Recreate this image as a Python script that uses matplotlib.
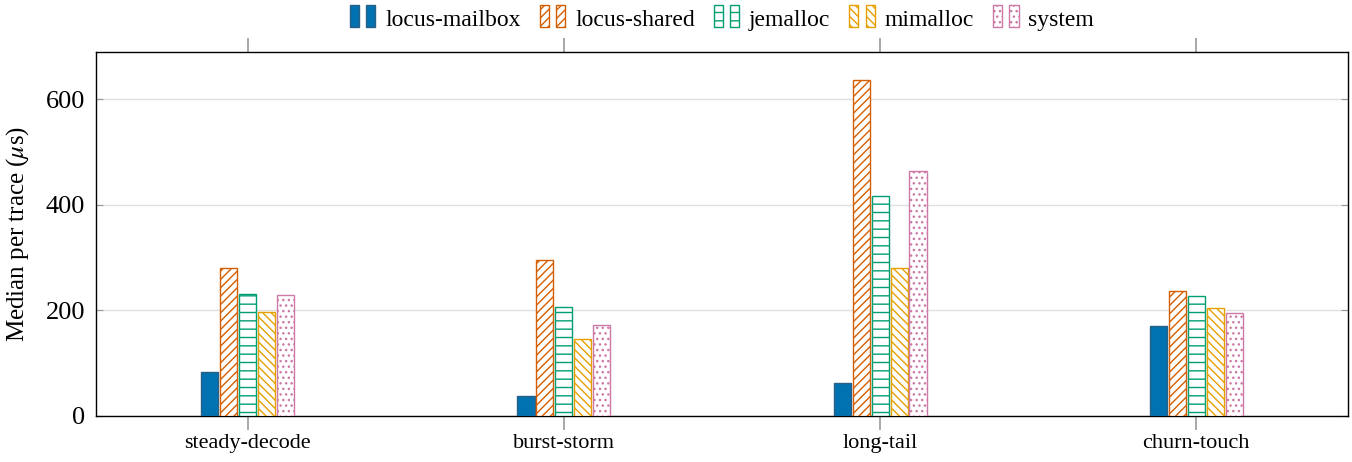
import numpy as np
import matplotlib
matplotlib.use('Agg')
import matplotlib.pyplot as plt
from matplotlib.patches import Rectangle
from matplotlib.legend_handler import HandlerBase

plt.rcParams['font.family'] = ['Liberation Serif', 'DejaVu Serif']
plt.rcParams['mathtext.fontset'] = 'stix'
plt.rcParams['hatch.linewidth'] = 1.0

categories = ['steady-decode', 'burst-storm', 'long-tail', 'churn-touch']
series = ['locus-mailbox', 'locus-shared', 'jemalloc', 'mimalloc', 'system']
locus_mailbox = [84, 38, 62, 170]
locus_shared = [280, 295, 636, 237]
jemalloc = [231, 206, 417, 227]
mimalloc = [198, 146, 280, 205]
system = [230, 173, 465, 196]
values = [locus_mailbox, locus_shared, jemalloc, mimalloc, system]

colors = ['#0072B2', '#D55E00', '#009E73', '#E69F00', '#CC79A7']
hatches = [None, '////', '--', '\\\\\\\\', '...']


class TwoBarHandler(HandlerBase):
    def create_artists(self, legend, orig_handle, xdescent, ydescent,
                       width, height, fontsize, trans):
        w = width * 0.32
        arts = []
        for x0 in (0.0, width * 0.58):
            r = Rectangle((x0 - xdescent, -ydescent - height * 0.1), w, height * 1.35,
                          facecolor=orig_handle.get_facecolor(),
                          edgecolor=orig_handle.get_edgecolor(),
                          hatch=orig_handle.get_hatch(), lw=1.0,
                          transform=trans)
            arts.append(r)
        return arts


fig = plt.figure(figsize=(13.52, 4.62), dpi=100)
ax = fig.add_axes([96 / 1352, 1 - 416 / 462, 1252 / 1352, 364 / 462])

x = np.arange(len(categories))
step = 0.06
bw = 0.054
handles = []
for i, (name, vals) in enumerate(zip(series, values)):
    pos = x + (i - 2) * step
    if hatches[i] is None:
        bars = ax.bar(pos, vals, bw, color=colors[i], edgecolor='#2a5f86',
                      lw=1.0, label=name, zorder=3)
    else:
        bars = ax.bar(pos, vals, bw, facecolor='white', edgecolor=colors[i],
                      hatch=hatches[i], lw=1.0, label=name, zorder=3)
    handles.append(bars.patches[0])

ax.set_xlim(-0.48, 3.48)
ax.set_ylim(0, 690)
ax.set_xticks(x)
ax.set_xticklabels(categories, fontsize=16)
ax.set_yticks([0, 200, 400, 600])
ax.tick_params(axis='y', labelsize=19, direction='in', length=5, color='#999999',
               right=True, pad=8)
ax.tick_params(axis='x', direction='out', length=10, color='#999999', top=True,
               width=1.2, pad=3)
ax.yaxis.grid(True, color='#e0e0e0', lw=1.0, zorder=0)
ax.set_ylabel(r'Median per trace ($\mu$s)', fontsize=18, labelpad=10)
for s in ax.spines.values():
    s.set_linewidth(1.0)

ax.legend(handles, series, loc='center', bbox_to_anchor=(0.5, 1.088),
          ncol=5, frameon=False, fontsize=17, handler_map={Rectangle: TwoBarHandler()},
          handlelength=1.2, handletextpad=0.3, columnspacing=0.8, borderaxespad=0.0)

fig.savefig('out.png', dpi=100)
